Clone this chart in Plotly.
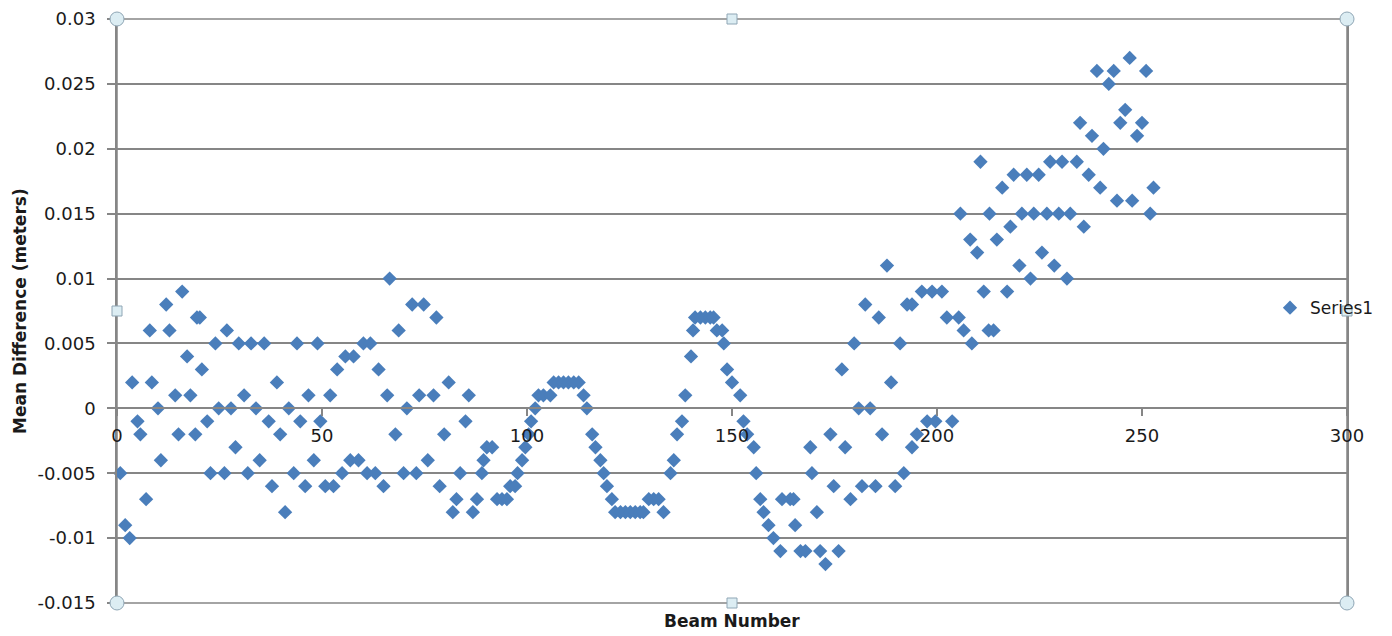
import plotly.graph_objects as go

# ---- data ----
beam = [
    0.8, 2.0, 3.1, 3.7, 5.0, 5.7, 7.1, 8.0, 8.5, 10.0, 10.7, 12.0, 12.8, 14.2, 15.0, 15.9, 17.1, 17.9,
    19.1, 19.5, 20.2, 20.7, 22.0, 22.8, 24.0, 24.8, 26.2, 26.8, 27.8, 28.9, 29.7, 31.0, 31.9, 32.7,
    33.9, 34.8, 35.9, 37.0, 37.8, 39.0, 39.8, 41.0, 41.9, 43.1, 43.9, 44.7, 45.9, 46.7, 48.0, 48.9, 49.6,
    50.8, 52.0, 52.8, 53.7, 54.9, 55.7, 56.9, 57.7, 58.9, 60.1, 61.0, 61.8, 63.0, 63.8, 65.0, 65.9,
    66.5, 67.9, 68.7, 69.9, 70.7, 72.0, 73.0, 73.7, 74.8, 75.8, 77.2, 77.9, 78.7, 79.8, 80.9, 81.9,
    82.8, 83.7, 85.0, 85.8, 86.8, 87.8, 89.0, 89.4, 90.2, 91.5, 92.7, 93.9, 95.1, 95.9, 97.1, 97.7,
    98.8, 99.6, 100.4, 101.0, 102.0, 102.8, 104.0,
    105.7, 106.5, 107.7, 108.9, 110.1, 111.4, 112.6, 113.8, 114.6, 115.9, 116.7, 117.9, 118.7, 119.5,
    120.7, 121.5, 122.8, 124.0, 125.2, 126.4, 127.6, 128.4, 129.7, 130.9, 132.1, 133.3, 135.0, 135.8,
    136.6, 137.8, 138.6, 140.0, 140.5, 141.0, 142.3, 143.5, 144.7, 145.5, 146.3, 147.6, 148.0, 148.8,
    150.0, 152.0, 152.8, 153.7, 155.3, 155.9, 156.9,
    157.7, 158.9, 160.1, 161.8, 162.2, 164.2, 165.0, 165.4, 166.7, 167.9, 169.1, 169.5, 170.7, 171.5,
    172.8, 174.0, 174.8, 176.0, 176.8, 177.6, 178.9, 179.8, 180.9, 181.7, 182.5, 183.7, 185.0, 185.8,
    186.6, 187.8, 188.8, 189.8, 191.0, 191.9, 192.7, 193.9, 193.9, 195.1, 196.3, 197.6, 198.8, 199.6,
    201.2, 202.4, 203.7, 205.3, 205.7, 206.5, 208.1, 208.5, 209.8, 210.6, 211.4, 212.6, 212.8,
    213.8, 214.6, 215.9, 217.1, 217.9, 218.7, 220.1, 220.7, 221.9, 222.8, 223.6, 224.8, 225.6, 226.8,
    227.6, 228.6, 229.7, 230.5, 231.7, 232.5, 234.1, 234.9, 235.8, 237.0, 237.8, 239.0, 239.8, 240.6,
    241.9, 243.1, 243.9, 244.7, 245.9, 247.0, 247.6, 248.8, 250.0, 251.0, 252.0, 252.8,
]
mean_diff = [
    -0.005, -0.009, -0.010, 0.002, -0.001, -0.002, -0.007, 0.006, 0.002, 0.000, -0.004, 0.008, 0.006,
    0.001, -0.002, 0.009, 0.004, 0.001, -0.002, 0.007, 0.007, 0.003, -0.001, -0.005, 0.005, 0.000,
    -0.005, 0.006, 0.000, -0.003, 0.005, 0.001, -0.005, 0.005, 0.000, -0.004, 0.005, -0.001, -0.006,
    0.002, -0.002, -0.008, 0.000, -0.005, 0.005, -0.001, -0.006, 0.001, -0.004, 0.005, -0.001,
    -0.006, 0.001, -0.006, 0.003, -0.005, 0.004, -0.004, 0.004, -0.004, 0.005, -0.005, 0.005, -0.005,
    0.003, -0.006, 0.001, 0.010, -0.002, 0.006, -0.005, 0.000, 0.008, -0.005, 0.001, 0.008, -0.004,
    0.001, 0.007, -0.006, -0.002, 0.002, -0.008, -0.007, -0.005, -0.001, 0.001, -0.008, -0.007,
    -0.005, -0.004, -0.003, -0.003, -0.007, -0.007, -0.007, -0.006, -0.006, -0.005, -0.004, -0.003,
    -0.002, -0.001, 0.000, 0.001, 0.001,
    0.001, 0.002, 0.002, 0.002, 0.002, 0.002, 0.002, 0.001, 0.000, -0.002, -0.003, -0.004, -0.005,
    -0.006, -0.007, -0.008, -0.008, -0.008, -0.008, -0.008, -0.008, -0.008, -0.007, -0.007, -0.007,
    -0.008, -0.005, -0.004, -0.002, -0.001, 0.001, 0.004, 0.006, 0.007, 0.007, 0.007, 0.007, 0.007,
    0.006, 0.006, 0.005, 0.003, 0.002, 0.001, -0.001, -0.002, -0.003, -0.005, -0.007,
    -0.008, -0.009, -0.010, -0.011, -0.007, -0.007, -0.007, -0.009, -0.011, -0.011, -0.003, -0.005,
    -0.008, -0.011, -0.012, -0.002, -0.006, -0.011, 0.003, -0.003, -0.007, 0.005, 0.000, -0.006,
    0.008, 0.000, -0.006, 0.007, -0.002, 0.011, 0.002, -0.006, 0.005, -0.005, 0.008, 0.008, -0.003,
    -0.002, 0.009, -0.001, 0.009, -0.001, 0.009, 0.007, -0.001, 0.007, 0.015, 0.006, 0.013, 0.005,
    0.012, 0.019, 0.009, 0.006, 0.015,
    0.006, 0.013, 0.017, 0.009, 0.014, 0.018, 0.011, 0.015, 0.018, 0.010, 0.015, 0.018, 0.012, 0.015,
    0.019, 0.011, 0.015, 0.019, 0.010, 0.015, 0.019, 0.022, 0.014, 0.018, 0.021, 0.026, 0.017, 0.020,
    0.025, 0.026, 0.016, 0.022, 0.023, 0.027, 0.016, 0.021, 0.022, 0.026, 0.015, 0.017,
]
series_name = "Series1"
x_title = "Beam Number"
y_title = "Mean Difference (meters)"
x_tick_vals = [0, 50, 100, 150, 200, 250, 300]
x_tick_text = ["0", "50", "100", "150", "200", "250", "300"]
y_tick_vals = [-0.015, -0.01, -0.005, 0, 0.005, 0.01, 0.015, 0.02, 0.025, 0.03]
y_tick_text = ["-0.015", "-0.01", "-0.005", "0", "0.005", "0.01", "0.015", "0.02", "0.025", "0.03"]

FONT = "DejaVu Sans"
GRID = "#868686"
BLUE = "#4A7EBB"
TXT = "#1a1a1a"

fig = go.Figure()
fig.add_trace(go.Scatter(
    x=beam, y=mean_diff, mode="markers", name=series_name,
    marker=dict(symbol="diamond", size=11, color=BLUE, line=dict(width=0)),
    showlegend=True, cliponaxis=False,
))

# frame of the plot area
shapes = [dict(type="rect", xref="paper", yref="paper", x0=0, x1=1, y0=0, y1=1,
               line=dict(color=GRID, width=1.5), layer="below")]
# selection handles
handle_fill = "#dcedf3"
handle_line = "#8fa6b5"
for (px, py) in [(0, 0), (0, 1), (1, 0), (1, 1)]:
    shapes.append(dict(type="circle", xref="paper", yref="paper", xsizemode="pixel", ysizemode="pixel",
                       xanchor=px, yanchor=py, x0=-7, x1=7, y0=-7, y1=7,
                       fillcolor=handle_fill, line=dict(color=handle_line, width=1)))
for (px, py) in [(0.5, 0), (0.5, 1), (0, 0.5), (1, 0.5)]:
    shapes.append(dict(type="rect", xref="paper", yref="paper", xsizemode="pixel", ysizemode="pixel",
                       xanchor=px, yanchor=py, x0=-5, x1=5, y0=-5, y1=5,
                       fillcolor=handle_fill, line=dict(color=handle_line, width=1)))

fig.update_layout(
    width=1384, height=628,
    margin=dict(l=109, r=45, t=11, b=33, autoexpand=False),
    paper_bgcolor="white", plot_bgcolor="white",
    font=dict(family=FONT, size=18, color=TXT),
    xaxis=dict(
        range=[0, 300], tickvals=x_tick_vals, ticktext=x_tick_text,
        showgrid=False, zeroline=False,
        anchor="free", position=1/3,
        showline=True, linecolor=GRID, linewidth=1.5,
        ticks="outside", ticklen=7, tickcolor=GRID, tickwidth=1.5,
        ticklabelstandoff=4,
        tickfont=dict(family=FONT, size=18, color=TXT),
    ),
    yaxis=dict(
        range=[-0.015, 0.03], tickvals=y_tick_vals, ticktext=y_tick_text,
        showgrid=True, gridcolor=GRID, gridwidth=1.5, zeroline=False,
        showline=True, mirror=True, linecolor=GRID, linewidth=1.5,
        ticks="outside", ticklen=8, tickcolor=GRID, tickwidth=1.5,
        ticklabelstandoff=8,
        tickfont=dict(family=FONT, size=18, color=TXT),
    ),
    legend=dict(x=0.9374, xanchor="left", y=0.505, yanchor="middle",
                bgcolor="rgba(0,0,0,0)", font=dict(family=FONT, size=17, color=TXT)),
    shapes=shapes,
    annotations=[
        dict(text=f"<b>{x_title}</b>", xref="paper", yref="paper", x=0.5, y=0,
             xanchor="center", yanchor="top", yshift=-6, showarrow=False,
             font=dict(family=FONT, size=17, color=TXT)),
        dict(text=f"<b>{y_title}</b>", xref="paper", yref="paper", x=0, y=0.5,
             xanchor="center", yanchor="middle", xshift=-97, textangle=-90, showarrow=False,
             font=dict(family=FONT, size=17, color=TXT)),
    ],
)

fig.write_html("out.html")
